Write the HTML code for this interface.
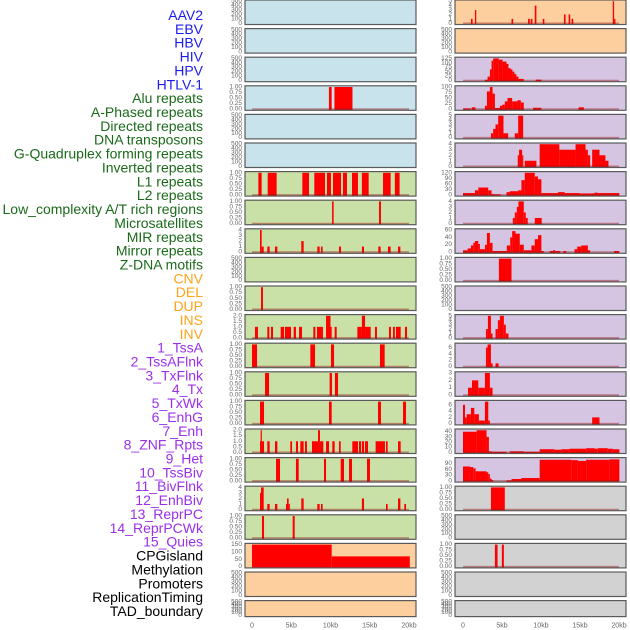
<!DOCTYPE html>
<html><head><meta charset="utf-8"><style>
html,body{margin:0;padding:0;background:#fff;}
svg{display:block;font-family:"Liberation Sans",sans-serif;}
</style></head><body>
<svg id="chart" width="630" height="630" viewBox="0 0 630 630" xmlns="http://www.w3.org/2000/svg"></svg>
<script>
// ---- labels ----
const trackLabels = ["AAV2","EBV","HBV","HIV","HPV","HTLV-1","Alu repeats","A-Phased repeats","Directed repeats","DNA transposons","G-Quadruplex forming repeats","Inverted repeats","L1 repeats","L2 repeats","Low_complexity A/T rich regions","Microsatellites","MIR repeats","Mirror repeats","Z-DNA motifs","CNV","DEL","DUP","INS","INV","1_TssA","2_TssAFlnk","3_TxFlnk","4_Tx","5_TxWk","6_EnhG","7_Enh","8_ZNF_Rpts","9_Het","10_TssBiv","11_BivFlnk","12_EnhBiv","13_ReprPC","14_ReprPCWk","15_Quies","CPGisland","Methylation","Promoters","ReplicationTiming","TAD_boundary"];
const labelGroups = ["virus","virus","virus","virus","virus","virus","rep","rep","rep","rep","rep","rep","rep","rep","rep","rep","rep","rep","rep","sv","sv","sv","sv","sv","chrom","chrom","chrom","chrom","chrom","chrom","chrom","chrom","chrom","chrom","chrom","chrom","chrom","chrom","chrom","other","other","other","other","other"];
const xTickLabels = ["0","5kb","10kb","15kb","20kb"];
const xTickValues = [0,5,10,15,20];

// ---- tick sets ----
const tEmpty = [0,100,200,300,400,500];
const tUnit = [0,0.25,0.5,0.75,1];
const tInt4 = [0,1,2,3,4];
const tInt5 = [0,1,2,3,4,5];
const tHalf2 = [0,0.5,1,1.5,2];

// ---- left column data: [startKb, endKb, value] ----
const L1 = [], L2 = [], L3 = [], L5 = [], L6 = [], L10 = [], L21 = [], L22 = [];
const L4 = [[9.8,10.15,1],[10.5,12.8,1]];
const L7 = [[0.81,1.23,1],[2.0,3.14,1],[6.41,7.26,1],[7.94,9.3,1],[9.55,10.06,1],[10.32,11.34,1],[11.59,12.1,1],[12.74,13.5,1],[14.0,14.86,1],[16.69,17.66,1],[18.2,18.8,1]];
const L8 = [[10.2,10.4,1],[16.18,16.43,1]];
const L9 = [[1.02,1.23,4],[1.23,1.49,1],[1.95,2.25,1],[2.93,3.23,1],[6.28,6.58,2],[8.32,8.62,1],[8.79,9.0,1],[11.08,11.34,1],[14.0,14.27,1],[16.09,16.39,1],[17.32,17.66,1],[18.6,18.9,1]];
const L11 = [[1.15,1.4,1]];
const L12 = [[0.38,0.76,1],[1.95,2.21,1],[2.42,2.68,1],[3.65,4.08,1],[4.2,4.97,1],[5.31,5.6,1],[5.99,6.37,1],[7.81,8.07,1],[8.28,9.04,1],[9.43,10.0,2],[10.0,10.1,1],[10.53,10.79,1],[13.42,14.0,1],[14.0,14.4,2],[14.4,15.12,1],[15.67,15.92,1],[17.45,17.7,1],[17.96,18.2,1],[18.34,18.94,1],[19.49,19.75,1]];
const L13 = [[0,0.64,1],[7.43,8.03,1],[10.06,10.45,1],[16.3,16.9,1]];
const L14 = [[1.66,2.17,1],[9.89,10.19,1],[10.57,10.96,1]];
const L15 = [[1.02,1.53,1],[9.81,10.15,1],[16.05,16.43,1],[19.24,19.62,1]];
const L16 = [[1.02,1.1,1],[1.1,1.23,2],[1.23,1.53,1],[1.95,2.25,1],[2.93,3.23,1],[4.88,5.1,1],[5.6,5.86,1],[6.16,6.58,1],[6.75,7.0,1],[7.64,8.41,1],[8.41,8.66,2],[8.66,9.09,1],[9.43,9.81,1],[10.23,10.53,1],[11.08,11.3,1],[12.78,13.5,1],[13.63,13.89,1],[14.0,14.27,1],[14.4,14.78,1],[15.75,16.94,1],[17.07,17.28,1],[18.6,18.94,1]];
const L17 = [[3.06,3.57,1],[5.6,5.95,1],[9.17,9.43,1],[11.3,11.72,1],[12.36,12.74,1],[14.65,15.03,1]];
const L18 = [[1.02,1.15,3],[1.15,1.49,4],[1.95,2.25,1],[2.93,3.23,1],[4.33,4.46,1],[4.46,4.67,2],[4.67,4.76,1],[6.28,6.58,2],[8.32,8.62,1],[8.79,9.0,1],[14.0,14.27,2],[17.07,17.28,1],[18.6,18.9,2],[19.4,19.62,1]];
const L19 = [[1.27,1.53,1],[5.18,5.44,1]];
const L20 = [[0,10.15,150],[10.15,20.1,70]];

// ---- right column data ----
const R2 = [], R11 = [], R19 = [], R21 = [], R22 = [];
const R1 = [[1.02,1.23,1],[1.53,1.7,3],[6.22,6.43,1],[8.34,8.56,1],[8.68,8.9,1],[9.2,9.41,4],[10.22,10.43,1],[12.94,13.15,2],[13.54,13.75,2],[13.92,14.13,1],[19.2,19.37,5],[19.37,19.54,1]];
const R3 = [[2.81,3.15,4],[3.15,3.45,22],[3.45,3.66,63],[3.66,3.87,112],[3.87,4.6,125],[4.6,5.07,118],[5.07,5.58,107],[5.58,5.83,94],[5.83,6.09,70],[6.09,6.34,63],[6.34,6.6,50],[6.6,6.85,36],[6.85,7.11,22],[7.11,7.79,9],[9.32,10.05,5]];
const R4 = [[0,0.98,3],[1.11,1.6,8],[2.81,3.07,15],[3.07,3.45,80],[3.45,3.79,100],[3.79,4.09,70],[4.09,4.73,5],[4.73,5.02,15],[5.02,5.36,20],[5.36,5.7,35],[5.7,6.3,50],[6.3,6.98,35],[6.98,7.41,40],[7.41,7.79,30],[8.98,10.05,6],[14.81,15.5,8]];
const R5 = [[3.58,3.87,1],[3.87,4.17,2],[4.17,4.51,3],[4.51,5.19,5],[5.19,5.79,1],[6.64,7.07,1],[7.07,7.71,5]];
const R6 = [[7.02,7.19,2],[7.19,7.58,3],[7.58,7.71,2],[7.92,9.41,1],[9.83,12.35,4],[12.35,14.43,3],[14.43,15.71,4],[15.71,16.01,3],[16.01,16.3,2],[16.56,17.5,3],[17.5,18.26,2],[18.26,18.65,1]];
const R7 = [[0,1.53,10],[1.53,1.96,25],[1.96,3.24,40],[3.24,3.66,25],[3.66,3.96,5],[3.96,4.85,3],[5.58,6.0,15],[6.0,7.07,20],[7.07,7.49,25],[7.49,7.92,80],[7.92,9.2,120],[9.2,9.62,100],[9.62,10.05,85],[10.05,12.18,10],[12.18,13.03,15],[13.03,14.94,10],[14.94,16.86,8],[16.86,17.28,12],[17.28,20.05,10]];
const R8 = [[6.39,6.64,1],[6.64,6.9,2],[6.9,7.11,3],[7.11,7.79,4],[7.79,8.05,2],[8.05,8.3,1],[9.2,10.09,1]];
const R9 = [[0,0.6,5],[0.6,1.02,10],[1.02,1.32,18],[1.32,1.53,25],[1.53,1.96,30],[1.96,2.17,22],[2.17,2.81,8],[2.81,3.07,20],[3.07,3.45,52],[3.45,3.79,25],[3.79,5.62,3],[5.62,6.05,18],[6.05,6.3,40],[6.3,6.73,57],[6.73,7.28,50],[7.28,7.79,20],[7.79,8.77,5],[8.77,9.2,18],[9.2,9.62,35],[9.62,10.05,46],[10.05,10.34,3],[11.11,11.54,3],[11.54,11.83,5],[11.83,12.47,3],[12.86,13.24,3],[14.3,14.64,8],[14.64,15.16,15],[15.16,16.01,18],[16.01,16.3,5],[19.37,20.05,3]];
const R10 = [[4.6,6.22,1]];
const R12 = [[2.94,3.19,2],[3.19,3.58,5],[3.58,3.79,1],[4.17,4.47,2],[4.47,4.73,4],[4.73,5.24,5],[5.24,5.49,3],[5.49,5.83,1]];
const R13 = [[2.94,3.15,6],[3.15,3.58,7],[3.58,3.79,1],[4.17,4.56,1]];
const R14 = [[0.64,1.15,1],[1.15,1.96,2],[1.96,2.81,1],[2.81,3.45,3],[3.45,3.79,1]];
const R15 = [[0,0.26,6],[0.26,0.47,2],[0.47,1.02,3],[1.02,1.45,5],[1.45,2.04,3],[2.04,2.81,1],[2.81,3.24,7],[3.24,3.45,1],[16.56,17.5,2]];
const R16 = [[0,1.75,40],[1.75,3.02,43],[3.02,3.32,30],[3.32,3.66,2],[3.66,5.58,1],[6.0,7.79,2],[7.79,9.83,1],[9.83,11.75,6],[11.75,12.6,5],[12.6,13.67,6],[13.67,15.79,7],[15.79,16.86,8],[16.86,17.28,7],[17.28,18.56,8],[18.56,19.2,7],[19.2,20.05,6]];
const R17 = [[0,0.89,75],[0.89,1.32,72],[1.32,1.62,65],[1.62,3.02,50],[3.02,3.24,45],[3.24,3.45,35],[3.45,3.66,12],[3.66,3.87,5],[5.58,6.22,3],[6.22,7.49,10],[7.49,9.83,15],[9.83,13.88,110],[13.88,14.73,108],[14.73,15.79,104],[15.79,18.77,110],[18.77,20.05,112]];
const R18 = [[3.58,5.36,1]];
const R20 = [[4.09,4.43,1],[4.98,5.24,1]];

// ---- panel definitions (column, data, y max, ticks, background) ----
const leftData  = [L1,L2,L3,L4,L5,L6,L7,L8,L9,L10,L11,L12,L13,L14,L15,L16,L17,L18,L19,L20,L21,L22];
const rightData = [R1,R2,R3,R4,R5,R6,R7,R8,R9,R10,R11,R12,R13,R14,R15,R16,R17,R18,R19,R20,R21,R22];
const leftYMax  = [500,500,500,1,500,500,1,1,4,500,1,2,1,1,1,2,1,4,1,150,500,500];
const rightYMax = [5,500,125,100,5,4,120,4,60,1,500,5,7,3,7,43,115,1,500,1,500,500];
const leftTicks  = [tEmpty,tEmpty,tEmpty,tUnit,tEmpty,tEmpty,tUnit,tUnit,tInt4,tEmpty,tUnit,tHalf2,tUnit,tUnit,tUnit,tHalf2,tUnit,tInt4,tUnit,[0,50,100,150],tEmpty,tEmpty];
const rightTicks = [tInt5,tEmpty,[0,25,50,75,100,125],[0,25,50,75,100],tInt5,tInt4,[0,30,60,90,120],tInt4,[0,20,40,60],tUnit,tEmpty,tInt5,[0,2,4,6],[0,1,2,3],[0,2,4,6],[0,10,20,30,40],[0,30,60,90],tUnit,tEmpty,tUnit,tEmpty,tEmpty];
const leftBg  = ["blue","blue","blue","blue","blue","blue","green","green","green","green","green","green","green","green","green","green","green","green","green","orange","orange","orange"];
const rightBg = ["orange","orange","purple","purple","purple","purple","purple","purple","purple","purple","purple","purple","purple","purple","purple","purple","purple","gray","gray","gray","gray","gray"];

const bgColors = {blue:"#c8e3ec",green:"#c9e0a6",orange:"#fecf9e",purple:"#d5c5e2",gray:"#d2d2d2"};
const labelColors = {virus:"#1c1cf0",rep:"#1a6a1a",sv:"#ffa31a",chrom:"#9b30e8",other:"#000000"};

const NS = "http://www.w3.org/2000/svg";
const svg = document.getElementById("chart");
function mk(tag, attrs, parent){
  const e = document.createElementNS(NS, tag);
  for (const k in attrs) e.setAttribute(k, attrs[k]);
  (parent||svg).appendChild(e);
  return e;
}
const cols = [{px:245,pw:171,x0:252,x20:409},{px:455,pw:171,x0:463,x20:619}];
function xScale(c, kb){ return cols[c].x0 + kb/20*(cols[c].x20-cols[c].x0); }
function rowTop(r){ return r*28.6; }
function rowH(r){ return r===21 ? 16 : 24.5; }
function yScale(r, v, ymax){ const t=rowTop(r), h=rowH(r); return t+h-1.2 - v/ymax*(h-2.4); }
function fmt(v, ticks){
  if (ticks===tUnit) return v.toFixed(2);
  if (ticks===tHalf2) return v.toFixed(1);
  return String(v);
}

// labels
trackLabels.forEach((lab,i)=>{
  const t = mk("text",{x:203,y:15+i*13.86,"text-anchor":"end","dominant-baseline":"central","font-size":"14",fill:labelColors[labelGroups[i]]});
  
  
  t.textContent = lab;
});

function drawPanel(c, r, data, ymax, ticks, bg){
  const g = mk("g",{});
  
  
  const P = cols[c], top = rowTop(r), h = rowH(r);
  mk("rect",{x:P.px,y:top,width:P.pw,height:h,fill:bgColors[bg]},g);
  ticks.forEach(v=>{
    const tt = mk("text",{x:P.px-3,y:yScale(r,v,ymax),"text-anchor":"end","dominant-baseline":"central","font-size":"6.5",fill:"#666"},g);
    
    
    tt.textContent = fmt(v,ticks);
  });
  data.forEach(d=>{
    const x1 = xScale(c, Math.max(0,d[0])), x2 = xScale(c, d[1]);
    const y1 = yScale(r, Math.min(d[2],ymax*1.02), ymax), y0 = yScale(r, 0, ymax);
    const b = mk("rect",{x:x1,y:y1,width:Math.max(1.2,x2-x1),height:Math.max(0.5,y0-y1+1),fill:"#ff0000"},g);
    
    
  });
  if (data.length && bg!=="orange" || (bg==="orange" && c===1 && data.length)) {
    const y0 = yScale(r,0,ymax);
    const ln = mk("line",{x1:xScale(c,0),x2:xScale(c,20),y1:y0,y2:y0,stroke:"rgba(150,20,20,0.45)","stroke-width":"1.6"},g);
    
    
  }
  mk("rect",{x:P.px,y:top,width:P.pw,height:h,fill:"none",stroke:"#5a5a5a","stroke-width":"1.2"},g);
}
for (let r=0;r<22;r++){
  drawPanel(0, r, leftData[r], leftYMax[r], leftTicks[r], leftBg[r]);
  drawPanel(1, r, rightData[r], rightYMax[r], rightTicks[r], rightBg[r]);
}
// x axes
[0,1].forEach(c=>{
  xTickValues.forEach((v,i)=>{
    const t = mk("text",{x:xScale(c,v),y:626,"text-anchor":"middle","dominant-baseline":"central","font-size":"7",fill:"#666"});
    
    
    t.textContent = xTickLabels[i];
  });
});
</script>
</body></html>
